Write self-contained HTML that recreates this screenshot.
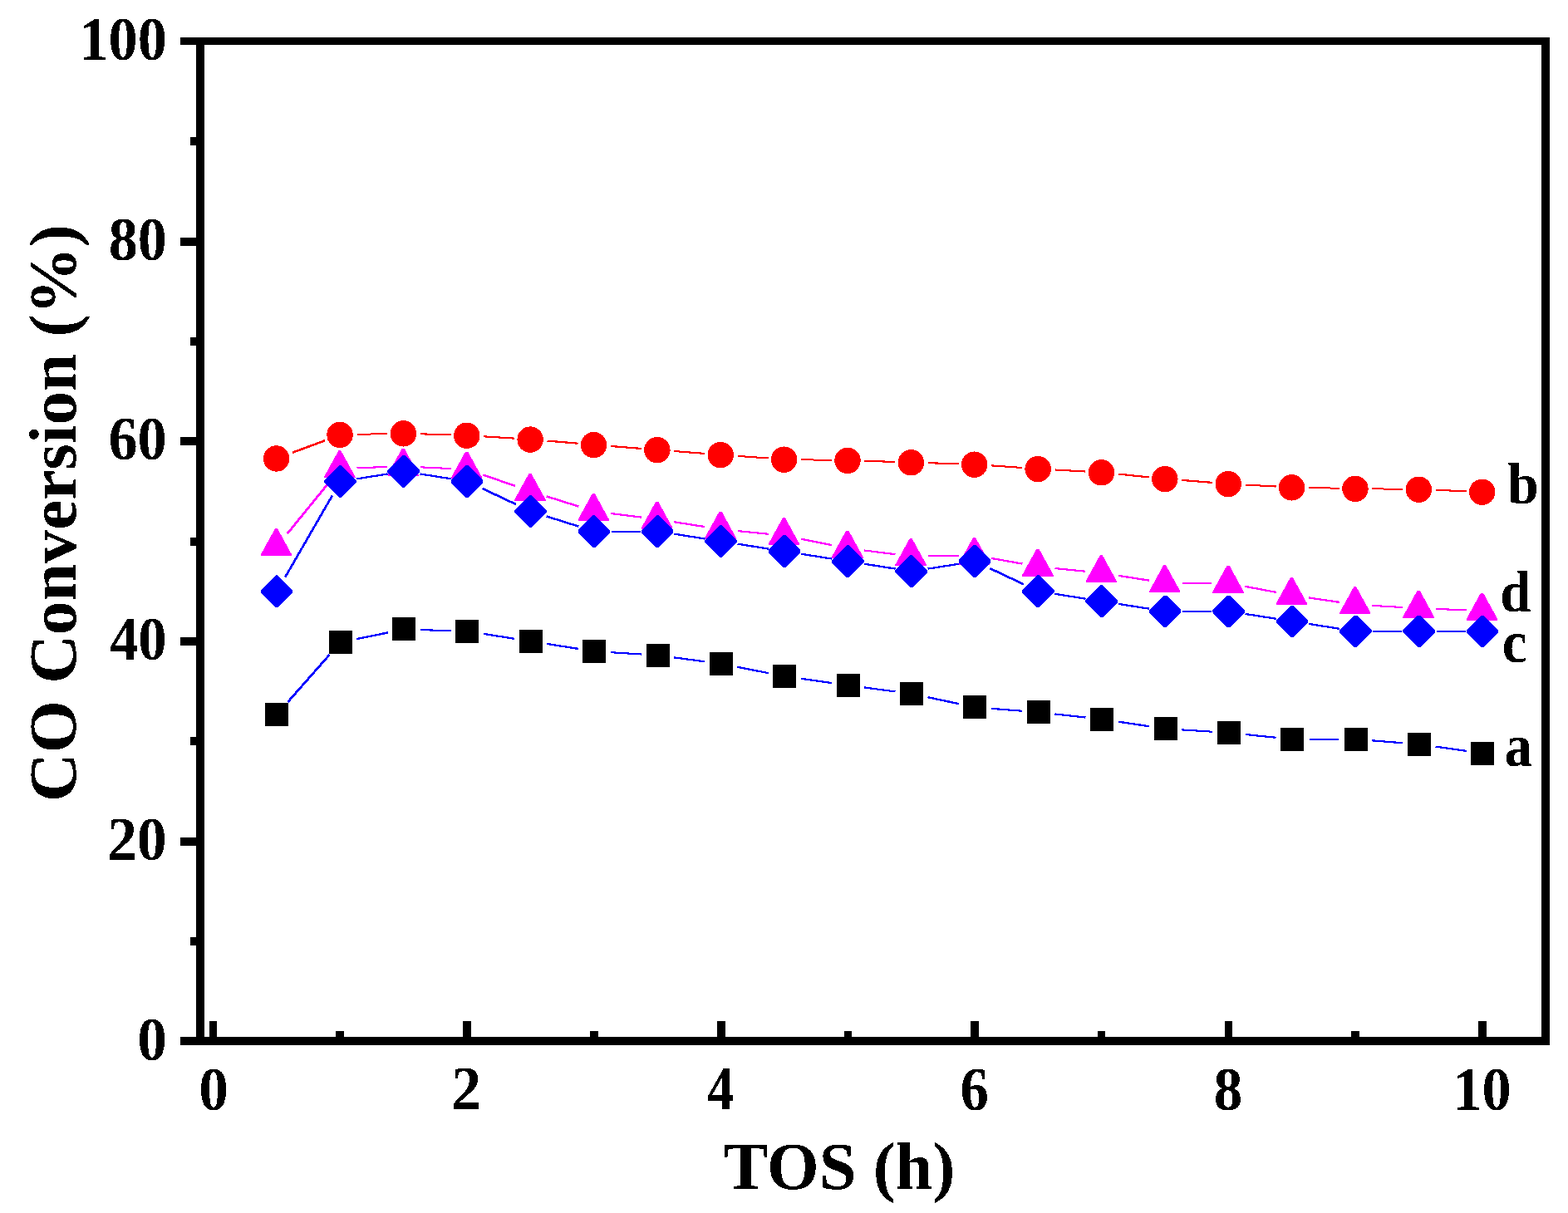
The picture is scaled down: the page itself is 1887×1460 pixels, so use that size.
<!DOCTYPE html>
<html lang="en"><head><meta charset="utf-8"><title>CO Conversion vs TOS</title>
<style>
html,body{margin:0;padding:0;background:#fff;}
body{width:1887px;height:1460px;overflow:hidden;}
svg{display:block;}
text{font-family:"Liberation Serif","Times New Roman",Times,serif;font-weight:bold;fill:#000;}
.tk{font-size:70px;}
.ti{font-size:80px;}
</style></head><body>
<svg width="1887" height="1460" viewBox="0 0 1887 1460">
<defs><filter id="bin" x="-5%" y="-5%" width="110%" height="110%" color-interpolation-filters="sRGB"><feComponentTransfer><feFuncA type="discrete" tableValues="0 1"/></feComponentTransfer></filter></defs>
<rect x="0" y="0" width="1887" height="1460" fill="#fff"/>
<g fill="#000" shape-rendering="crispEdges">
<rect x="217" y="45" width="1648" height="9"/>
<rect x="217" y="1248" width="1648" height="10"/>
<rect x="236" y="45" width="10" height="1213"/>
<rect x="1855" y="45" width="10" height="1213"/>
<rect x="229" y="165" width="8" height="10"/>
<rect x="217" y="286" width="20" height="10"/>
<rect x="229" y="406" width="8" height="10"/>
<rect x="217" y="526" width="20" height="10"/>
<rect x="229" y="647" width="8" height="10"/>
<rect x="217" y="767" width="20" height="10"/>
<rect x="229" y="887" width="8" height="10"/>
<rect x="217" y="1008" width="20" height="10"/>
<rect x="229" y="1128" width="8" height="10"/>
<rect x="252" y="1229" width="9" height="20"/>
<rect x="404" y="1241" width="10" height="8"/>
<rect x="557" y="1229" width="10" height="20"/>
<rect x="710" y="1241" width="10" height="8"/>
<rect x="863" y="1229" width="10" height="20"/>
<rect x="1016" y="1241" width="9" height="8"/>
<rect x="1168" y="1229" width="10" height="20"/>
<rect x="1321" y="1241" width="9" height="8"/>
<rect x="1474" y="1229" width="9" height="20"/>
<rect x="1626" y="1241" width="10" height="8"/>
<rect x="1779" y="1229" width="10" height="20"/>
</g>
<g shape-rendering="crispEdges">
<path d="M1575.89 890L1611.06 890" fill="none" stroke="#0000ff" stroke-width="2"/>
<path d="M505.9 758.09L542.69 759.25M734.98 785.18L771.83 787.5M1422.31 878.41L1459.16 880.73" fill="none" stroke="#0000ff" stroke-width="2.1"/>
<path d="M811.21 791.37L848.34 796.34M1040.32 827.46L1077.45 832.43M1193.18 852.85L1230.07 855.76M1269.49 859.48L1306.5 863.56M1498.62 883.99L1535.59 887.78M1651.4 891.35L1688.29 894.25" fill="none" stroke="#0000ff" stroke-width="2.2"/>
<path d="M582.04 762.95L619.29 768.82M658.41 774.98L695.66 780.85M887.39 802.79L924.9 810.18M963.93 816.78L1001.1 822.05M1345.76 868.66L1382.97 874.23M1727.63 898.59L1764.8 903.86" fill="none" stroke="#0000ff" stroke-width="2.3"/>
<path d="M429.14 769.13L466.71 761.44M1116.44 839.18L1154.07 847.18" fill="none" stroke="#0000ff" stroke-width="2.4"/>
<path d="M346.46 844.87L396.65 787.95" fill="none" stroke="#0000ff" stroke-width="2.8"/>
<rect x="319" y="846" width="28" height="28" fill="#000"/>
<rect x="396" y="759" width="28" height="28" fill="#000"/>
<rect x="472" y="743" width="28" height="28" fill="#000"/>
<rect x="548" y="746" width="28" height="28" fill="#000"/>
<rect x="625" y="758" width="28" height="28" fill="#000"/>
<rect x="701" y="770" width="28" height="28" fill="#000"/>
<rect x="778" y="775" width="28" height="28" fill="#000"/>
<rect x="854" y="785" width="28" height="28" fill="#000"/>
<rect x="930" y="800" width="28" height="28" fill="#000"/>
<rect x="1007" y="811" width="28" height="28" fill="#000"/>
<rect x="1083" y="821" width="28" height="28" fill="#000"/>
<rect x="1159" y="837" width="28" height="28" fill="#000"/>
<rect x="1236" y="843" width="28" height="28" fill="#000"/>
<rect x="1312" y="852" width="28" height="28" fill="#000"/>
<rect x="1389" y="863" width="28" height="28" fill="#000"/>
<rect x="1465" y="868" width="28" height="28" fill="#000"/>
<rect x="1541" y="876" width="28" height="28" fill="#000"/>
<rect x="1618" y="876" width="28" height="28" fill="#000"/>
<rect x="1694" y="882" width="28" height="28" fill="#000"/>
<rect x="1770" y="893" width="28" height="28" fill="#000"/>
<path d="M429.54 522.83L466.31 522.08M964.13 553.27L1000.9 553.85M1575.09 587.01L1611.86 587.71M1651.46 588.33L1688.23 588.79" fill="none" stroke="#ff0000" stroke-width="2"/>
<path d="M505.9 522.3L542.69 523.46M582.24 525.33L619.09 527.65M811.33 543.05L848.22 545.9M887.71 548.85L924.58 551.52M1040.49 554.78L1077.28 555.94M1116.86 557.19L1153.65 558.35M1193.19 560.37L1230.06 562.98M1269.58 565.47L1306.41 567.5M1498.69 583.52L1535.52 585.55M1727.81 589.82L1764.62 591.27" fill="none" stroke="#ff0000" stroke-width="2.1"/>
<path d="M658.58 530.57L695.49 533.71M734.96 536.98L771.85 539.94M1345.88 570.61L1382.85 574.4M1422.29 577.97L1459.18 580.87" fill="none" stroke="#ff0000" stroke-width="2.2"/>
<path d="M351.92 544.83L391.19 530.16" fill="none" stroke="#ff0000" stroke-width="2.6"/>
<circle cx="332.67" cy="551.95" r="15.7" fill="#ff0000"/>
<circle cx="409.04" cy="523.44" r="15.7" fill="#ff0000"/>
<circle cx="485.41" cy="521.88" r="15.7" fill="#ff0000"/>
<circle cx="561.78" cy="524.28" r="15.7" fill="#ff0000"/>
<circle cx="638.15" cy="529.09" r="15.7" fill="#ff0000"/>
<circle cx="714.52" cy="535.59" r="15.7" fill="#ff0000"/>
<circle cx="790.89" cy="541.73" r="15.7" fill="#ff0000"/>
<circle cx="867.26" cy="547.62" r="15.7" fill="#ff0000"/>
<circle cx="943.63" cy="553.15" r="15.7" fill="#ff0000"/>
<circle cx="1020" cy="554.36" r="15.7" fill="#ff0000"/>
<circle cx="1096.37" cy="556.76" r="15.7" fill="#ff0000"/>
<circle cx="1172.74" cy="559.17" r="15.7" fill="#ff0000"/>
<circle cx="1249.11" cy="564.58" r="15.7" fill="#ff0000"/>
<circle cx="1325.48" cy="568.79" r="15.7" fill="#ff0000"/>
<circle cx="1401.85" cy="576.61" r="15.7" fill="#ff0000"/>
<circle cx="1478.22" cy="582.63" r="15.7" fill="#ff0000"/>
<circle cx="1554.59" cy="586.84" r="15.7" fill="#ff0000"/>
<circle cx="1630.96" cy="588.28" r="15.7" fill="#ff0000"/>
<circle cx="1707.33" cy="589.24" r="15.7" fill="#ff0000"/>
<circle cx="1783.7" cy="592.25" r="15.7" fill="#ff0000"/>
<path d="M1116.87 669.33L1153.64 668.75M1423.15 702L1458.32 702" fill="none" stroke="#ff00ff" stroke-width="2"/>
<path d="M429.53 563.16L466.32 562M505.89 562.31L542.7 564.05M1651.43 728.9L1688.26 731.05M1727.82 732.95L1764.61 734.34" fill="none" stroke="#ff00ff" stroke-width="2.1"/>
<path d="M734.86 617.99L771.95 622.66M887.66 639.12L924.63 642.79M1040.34 662.5L1077.43 667.17M1269.51 684.02L1306.48 687.75" fill="none" stroke="#ff00ff" stroke-width="2.2"/>
<path d="M811.15 628.21L848.4 634.08M1192.93 671.91L1230.32 678.57M1345.74 692.82L1382.99 698.68M1498.38 705.8L1535.83 712.88M1574.88 719.43L1612.07 724.88" fill="none" stroke="#ff00ff" stroke-width="2.3"/>
<path d="M963.75 648.63L1001.28 656.14" fill="none" stroke="#ff00ff" stroke-width="2.4"/>
<path d="M581.19 571.47L620.14 584.97M657.73 597.4L696.34 609.56" fill="none" stroke="#ff00ff" stroke-width="2.5"/>
<path d="M345.87 642.26L397.24 579.14" fill="none" stroke="#ff00ff" stroke-width="2.8"/>
<polygon points="330.97,636.2 333.97,636.2 351.17,667.5 351.17,669.1 313.77,669.1 313.77,667.5" fill="#ff00ff"/>
<polygon points="407.34,542.36 410.34,542.36 427.54,573.66 427.54,575.26 390.14,575.26 390.14,573.66" fill="#ff00ff"/>
<polygon points="483.71,539.96 486.71,539.96 503.91,571.26 503.91,572.86 466.51,572.86 466.51,571.26" fill="#ff00ff"/>
<polygon points="560.08,543.57 563.08,543.57 580.28,574.87 580.28,576.47 542.88,576.47 542.88,574.87" fill="#ff00ff"/>
<polygon points="636.45,570.03 639.45,570.03 656.65,601.33 656.65,602.93 619.25,602.93 619.25,601.33" fill="#ff00ff"/>
<polygon points="712.82,594.09 715.82,594.09 733.02,625.39 733.02,626.99 695.62,626.99 695.62,625.39" fill="#ff00ff"/>
<polygon points="789.19,603.72 792.19,603.72 809.39,635.02 809.39,636.62 771.99,636.62 771.99,635.02" fill="#ff00ff"/>
<polygon points="865.56,615.75 868.56,615.75 885.76,647.05 885.76,648.65 848.36,648.65 848.36,647.05" fill="#ff00ff"/>
<polygon points="941.93,623.33 944.93,623.33 962.13,654.63 962.13,656.23 924.73,656.23 924.73,654.63" fill="#ff00ff"/>
<polygon points="1018.3,638.6 1021.3,638.6 1038.5,669.9 1038.5,671.5 1001.1,671.5 1001.1,669.9" fill="#ff00ff"/>
<polygon points="1094.67,648.23 1097.67,648.23 1114.87,679.53 1114.87,681.13 1077.47,681.13 1077.47,679.53" fill="#ff00ff"/>
<polygon points="1171.04,647.03 1174.04,647.03 1191.24,678.33 1191.24,679.93 1153.84,679.93 1153.84,678.33" fill="#ff00ff"/>
<polygon points="1247.41,660.62 1250.41,660.62 1267.61,691.92 1267.61,693.52 1230.21,693.52 1230.21,691.92" fill="#ff00ff"/>
<polygon points="1323.78,668.32 1326.78,668.32 1343.98,699.62 1343.98,701.22 1306.58,701.22 1306.58,699.62" fill="#ff00ff"/>
<polygon points="1400.15,680.35 1403.15,680.35 1420.35,711.65 1420.35,713.25 1382.95,713.25 1382.95,711.65" fill="#ff00ff"/>
<polygon points="1476.52,680.71 1479.52,680.71 1496.72,712.01 1496.72,713.61 1459.32,713.61 1459.32,712.01" fill="#ff00ff"/>
<polygon points="1552.89,695.15 1555.89,695.15 1573.09,726.45 1573.09,728.05 1535.69,728.05 1535.69,726.45" fill="#ff00ff"/>
<polygon points="1629.26,706.33 1632.26,706.33 1649.46,737.63 1649.46,739.23 1612.06,739.23 1612.06,737.63" fill="#ff00ff"/>
<polygon points="1705.63,710.78 1708.63,710.78 1725.83,742.08 1725.83,743.68 1688.43,743.68 1688.43,742.08" fill="#ff00ff"/>
<polygon points="1782,713.67 1785,713.67 1802.2,744.97 1802.2,746.57 1764.8,746.57 1764.8,744.97" fill="#ff00ff"/>
<path d="M735.82 640L770.99 640M1423.15 736L1458.32 736M1652.26 760L1687.43 760M1728.63 760L1763.8 760" fill="none" stroke="#0000ff" stroke-width="2"/>
<path d="M429.3 576.34L466.55 570.47M505.67 570.47L542.92 576.34M811.15 642.65L848.4 648.52M887.52 654.68L924.77 660.55M963.89 666.71L1001.14 672.58M1040.26 678.74L1077.51 684.61M1116.63 684.61L1153.88 678.74M1269.37 714.83L1306.62 720.7M1345.74 726.86L1382.99 732.73M1498.48 738.89L1535.73 744.76M1574.85 750.92L1612.1 756.79" fill="none" stroke="#0000ff" stroke-width="2.3"/>
<path d="M657.73 621.46L696.34 633.62" fill="none" stroke="#0000ff" stroke-width="2.5"/>
<path d="M343.27 694.6L399.84 596.57M580.38 587.88L620.95 607.05M1191.34 684.12L1231.91 703.29" fill="none" stroke="#0000ff" stroke-width="2.7"/>
<polygon points="331.57,692.45 334.37,692.45 352.27,710.35 352.27,713.15 334.37,731.05 331.57,731.05 313.67,713.15 313.67,710.35" fill="#0000ff"/>
<polygon points="407.94,560.12 410.74,560.12 428.64,578.02 428.64,580.82 410.74,598.72 407.94,598.72 390.04,580.82 390.04,578.02" fill="#0000ff"/>
<polygon points="484.31,548.09 487.11,548.09 505.01,565.99 505.01,568.79 487.11,586.69 484.31,586.69 466.41,568.79 466.41,565.99" fill="#0000ff"/>
<polygon points="560.68,560.12 563.48,560.12 581.38,578.02 581.38,580.82 563.48,598.72 560.68,598.72 542.78,580.82 542.78,578.02" fill="#0000ff"/>
<polygon points="637.05,596.21 639.85,596.21 657.75,614.11 657.75,616.91 639.85,634.81 637.05,634.81 619.15,616.91 619.15,614.11" fill="#0000ff"/>
<polygon points="713.42,620.27 716.22,620.27 734.12,638.17 734.12,640.97 716.22,658.87 713.42,658.87 695.52,640.97 695.52,638.17" fill="#0000ff"/>
<polygon points="789.79,620.27 792.59,620.27 810.49,638.17 810.49,640.97 792.59,658.87 789.79,658.87 771.89,640.97 771.89,638.17" fill="#0000ff"/>
<polygon points="866.16,632.3 868.96,632.3 886.86,650.2 886.86,653 868.96,670.9 866.16,670.9 848.26,653 848.26,650.2" fill="#0000ff"/>
<polygon points="942.53,644.33 945.33,644.33 963.23,662.23 963.23,665.03 945.33,682.93 942.53,682.93 924.63,665.03 924.63,662.23" fill="#0000ff"/>
<polygon points="1018.9,656.36 1021.7,656.36 1039.6,674.26 1039.6,677.06 1021.7,694.96 1018.9,694.96 1001,677.06 1001,674.26" fill="#0000ff"/>
<polygon points="1095.27,668.39 1098.07,668.39 1115.97,686.29 1115.97,689.09 1098.07,706.99 1095.27,706.99 1077.37,689.09 1077.37,686.29" fill="#0000ff"/>
<polygon points="1171.64,656.36 1174.44,656.36 1192.34,674.26 1192.34,677.06 1174.44,694.96 1171.64,694.96 1153.74,677.06 1153.74,674.26" fill="#0000ff"/>
<polygon points="1248.01,692.45 1250.81,692.45 1268.71,710.35 1268.71,713.15 1250.81,731.05 1248.01,731.05 1230.11,713.15 1230.11,710.35" fill="#0000ff"/>
<polygon points="1324.38,704.48 1327.18,704.48 1345.08,722.38 1345.08,725.18 1327.18,743.08 1324.38,743.08 1306.48,725.18 1306.48,722.38" fill="#0000ff"/>
<polygon points="1400.75,716.51 1403.55,716.51 1421.45,734.41 1421.45,737.21 1403.55,755.11 1400.75,755.11 1382.85,737.21 1382.85,734.41" fill="#0000ff"/>
<polygon points="1477.12,716.51 1479.92,716.51 1497.82,734.41 1497.82,737.21 1479.92,755.11 1477.12,755.11 1459.22,737.21 1459.22,734.41" fill="#0000ff"/>
<polygon points="1553.49,728.54 1556.29,728.54 1574.19,746.44 1574.19,749.24 1556.29,767.14 1553.49,767.14 1535.59,749.24 1535.59,746.44" fill="#0000ff"/>
<polygon points="1629.86,740.57 1632.66,740.57 1650.56,758.47 1650.56,761.27 1632.66,779.17 1629.86,779.17 1611.96,761.27 1611.96,758.47" fill="#0000ff"/>
<polygon points="1706.23,740.57 1709.03,740.57 1726.93,758.47 1726.93,761.27 1709.03,779.17 1706.23,779.17 1688.33,761.27 1688.33,758.47" fill="#0000ff"/>
<polygon points="1782.6,740.57 1785.4,740.57 1803.3,758.47 1803.3,761.27 1785.4,779.17 1782.6,779.17 1764.7,761.27 1764.7,758.47" fill="#0000ff"/>
</g>
<g filter="url(#bin)">
<text class="tk" transform="matrix(1.0026 0 0 1.0540 95.49 71.61)">100</text>
<text class="tk" transform="matrix(1.0000 0 0 1.0540 130.75 312.61)">80</text>
<text class="tk" transform="matrix(1.0039 0 0 1.0540 130.49 552.61)">60</text>
<text class="tk" transform="matrix(0.9811 0 0 1.0540 132.02 793.61)">40</text>
<text class="tk" transform="matrix(1.0272 0 0 1.0540 128.92 1034.61)">20</text>
<text class="tk" transform="matrix(1.0169 0 0 1.0540 165.20 1275.61)">0</text>
<text class="tk" transform="matrix(1.0169 0 0 1.0540 239.20 1335.61)">0</text>
<text class="tk" transform="matrix(1.0345 0 0 1.0551 542.90 1335.40)">2</text>
<text class="tk" transform="matrix(0.9160 0 0 1.0609 851.08 1335.40)">4</text>
<text class="tk" transform="matrix(0.9836 0 0 1.0596 1155.54 1335.61)">6</text>
<text class="tk" transform="matrix(0.9836 0 0 1.0540 1460.79 1335.61)">8</text>
<text class="tk" transform="matrix(1.0040 0 0 1.0540 1748.48 1335.61)">10</text>
<text class="tk" transform="matrix(0.9714 0 0 0.9909 1814.03 605.66)">b</text>
<text class="tk" transform="matrix(0.9577 0 0 0.9909 1805.37 735.66)">d</text>
<text class="tk" transform="matrix(0.9720 0 0 1.0388 1807.57 796.88)">c</text>
<text class="tk" transform="matrix(0.9449 0 0 1.0388 1810.87 921.62)">a</text>
<text class="ti" text-anchor="middle" transform="translate(1010 1430.8) scale(1.008 1.01)">TOS (h)</text>
<text class="ti" text-anchor="middle" transform="translate(90.8 617.5) rotate(-90) scale(1.015 1)">CO Conversion (%)</text>
</g>
</svg>
</body></html>
